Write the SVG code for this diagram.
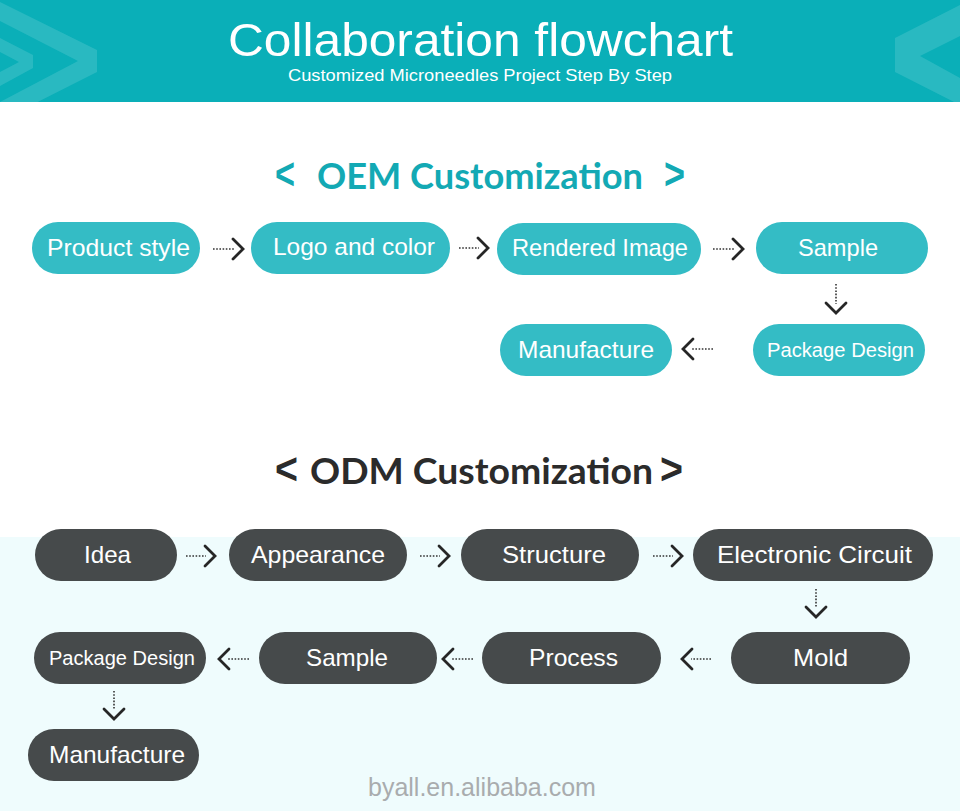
<svg xmlns="http://www.w3.org/2000/svg" width="960" height="811" viewBox="0 0 960 811">
<defs>
<style>
.hdr{fill:#0aafb8}
.chev{fill:#ffffff;fill-opacity:0.13}
.title{font-family:"Liberation Sans",Arial,sans-serif;fill:#ffffff;text-anchor:middle}
.sec{font-family:Lato,"Noto Sans",sans-serif;font-weight:700;font-size:37px}
.br{font-family:"Liberation Sans",Arial,sans-serif;font-weight:700;font-size:44px}
.oemT{fill:#13a9b4}
.odmT{fill:#2b2b2b}
.oem rect{fill:#34bcc5}
.odm rect{fill:#464a4b}
.lbl{font-family:"Liberation Sans",Arial,sans-serif;font-size:24px;fill:#ffffff;text-anchor:middle}
.sm{font-size:20px}
.conn path{fill:none;stroke:#333333;stroke-width:1.6;stroke-dasharray:1.6 1.6;marker-end:url(#chev)}
.wm{font-family:"Liberation Sans",Arial,sans-serif;font-size:25px;fill:#a9acae}
</style>
<marker id="chev" markerUnits="userSpaceOnUse" markerWidth="14" markerHeight="24" viewBox="0 0 14 24" refX="2" refY="11" orient="auto" overflow="visible">
<path d="M1,1 L11,11 L1,21" fill="none" stroke="#262626" stroke-width="2.8" stroke-linecap="round" stroke-linejoin="miter"/>
</marker>
</defs>
<rect x="0" y="0" width="960" height="811" fill="#ffffff"/>
<rect x="0" y="537" width="960" height="274" fill="#effcfd"/>
<g id="header">
<rect class="hdr" x="0" y="0" width="960" height="102"/>
<polygon class="chev" points="0,2 97,50 97,72 0,121 0,102 78,61 0,21"/>
<polygon class="chev" points="0,38 33,55 33,68 0,86 0,72 19,62 0,52"/>
<polygon class="chev" points="960,5 895,38 895,72 960,105 960,78 920,56 960,36"/>
<text class="title" x="480.5" y="56" font-size="47" textLength="505" lengthAdjust="spacingAndGlyphs">Collaboration flowchart</text>
<text class="title" x="480" y="81" font-size="17" textLength="384" lengthAdjust="spacingAndGlyphs">Customized Microneedles Project Step By Step</text>
</g>
<g id="oem-title">
<text class="sec oemT" y="189"><tspan class="br" x="275" textLength="20" lengthAdjust="spacingAndGlyphs">&lt;</tspan><tspan x="317" textLength="326" lengthAdjust="spacingAndGlyphs">OEM Customization</tspan><tspan class="br" x="664" textLength="21" lengthAdjust="spacingAndGlyphs">&gt;</tspan></text>
</g>
<g id="odm-title">
<text class="sec odmT" y="484"><tspan class="br" x="275" textLength="23" lengthAdjust="spacingAndGlyphs">&lt;</tspan><tspan x="310" textLength="343" lengthAdjust="spacingAndGlyphs">ODM Customization</tspan><tspan class="br" x="660" textLength="23" lengthAdjust="spacingAndGlyphs">&gt;</tspan></text>
</g>
<g id="oem-product-style" class="oem"><rect x="32" y="222" width="168" height="52" rx="26"/><text class="lbl" x="118.5" y="256" textLength="143" lengthAdjust="spacingAndGlyphs">Product style</text></g>
<g id="oem-logo-color" class="oem"><rect x="251" y="222" width="199" height="52" rx="26"/><text class="lbl" x="354" y="255" textLength="162" lengthAdjust="spacingAndGlyphs">Logo and color</text></g>
<g id="oem-rendered-image" class="oem"><rect x="497" y="223" width="204" height="52" rx="26"/><text class="lbl" x="600" y="256" textLength="176" lengthAdjust="spacingAndGlyphs">Rendered Image</text></g>
<g id="oem-sample" class="oem"><rect x="756" y="222" width="172" height="52" rx="26"/><text class="lbl" x="838" y="256" textLength="80" lengthAdjust="spacingAndGlyphs">Sample</text></g>
<g id="oem-package-design" class="oem"><rect x="753" y="324" width="172" height="52" rx="26"/><text class="lbl sm" x="840.5" y="357" textLength="147" lengthAdjust="spacingAndGlyphs">Package Design</text></g>
<g id="oem-manufacture" class="oem"><rect x="500" y="324" width="172" height="52" rx="26"/><text class="lbl" x="586" y="358" textLength="136" lengthAdjust="spacingAndGlyphs">Manufacture</text></g>
<g id="odm-idea" class="odm"><rect x="35" y="529" width="142" height="52" rx="26"/><text class="lbl" x="107.5" y="563" textLength="47" lengthAdjust="spacingAndGlyphs">Idea</text></g>
<g id="odm-appearance" class="odm"><rect x="229" y="529" width="178" height="52" rx="26"/><text class="lbl" x="318" y="563" textLength="134" lengthAdjust="spacingAndGlyphs">Appearance</text></g>
<g id="odm-structure" class="odm"><rect x="461" y="529" width="178" height="52" rx="26"/><text class="lbl" x="554" y="563" textLength="104" lengthAdjust="spacingAndGlyphs">Structure</text></g>
<g id="odm-electronic-circuit" class="odm"><rect x="693" y="529" width="240" height="52" rx="26"/><text class="lbl" x="814.5" y="563" textLength="195" lengthAdjust="spacingAndGlyphs">Electronic Circuit</text></g>
<g id="odm-mold" class="odm"><rect x="731" y="632" width="179" height="52" rx="26"/><text class="lbl" x="820.5" y="666" textLength="55" lengthAdjust="spacingAndGlyphs">Mold</text></g>
<g id="odm-process" class="odm"><rect x="482" y="632" width="179" height="52" rx="26"/><text class="lbl" x="573.5" y="666" textLength="89" lengthAdjust="spacingAndGlyphs">Process</text></g>
<g id="odm-sample" class="odm"><rect x="259" y="632" width="178" height="52" rx="26"/><text class="lbl" x="347" y="666" textLength="82" lengthAdjust="spacingAndGlyphs">Sample</text></g>
<g id="odm-package-design" class="odm"><rect x="34" y="632" width="172" height="52" rx="26"/><text class="lbl sm" x="122" y="665" textLength="146" lengthAdjust="spacingAndGlyphs">Package Design</text></g>
<g id="odm-manufacture" class="odm"><rect x="28" y="729" width="171" height="52" rx="26"/><text class="lbl" x="117" y="763" textLength="136" lengthAdjust="spacingAndGlyphs">Manufacture</text></g>
<g id="connectors" class="conn">
<path d="M213,249 H234"/>
<path d="M459,248 H479"/>
<path d="M713,249 H734"/>
<path d="M836,284 V304"/>
<path d="M713,349 H692"/>
<path d="M186,556 H206"/>
<path d="M420,556 H440"/>
<path d="M653,556 H673"/>
<path d="M816,589 V608"/>
<path d="M711,659 H691"/>
<path d="M473,659 H452"/>
<path d="M249,659 H228"/>
<path d="M114,691 V710"/>
</g>
<text class="wm" x="368" y="796">byall.en.alibaba.com</text>
</svg>
